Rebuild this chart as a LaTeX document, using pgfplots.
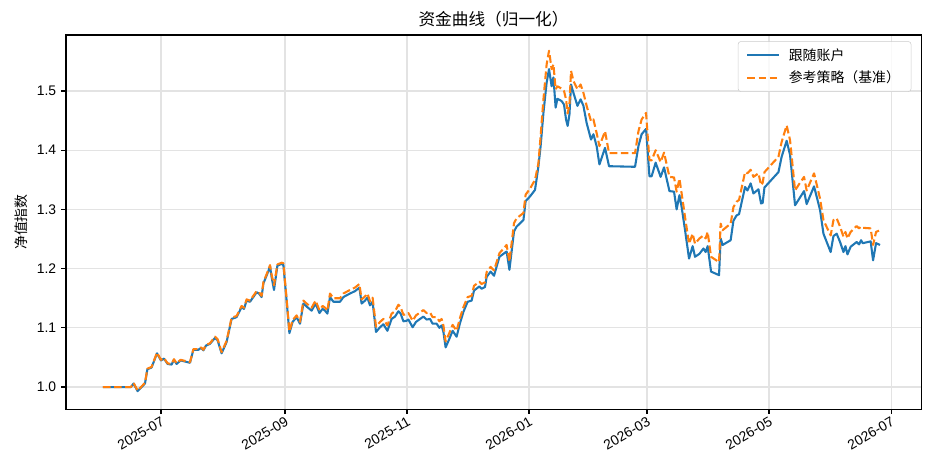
\documentclass[border=0pt]{standalone}
\usepackage{fontspec}
\setmainfont{Liberation Sans}
\newfontfamily\cjk{Noto Sans CJK SC}
\usepackage{pgfplots}
\usepackage{pgfplotstable}
\pgfplotsset{compat=1.18}
\definecolor{mblue}{HTML}{1F77B4}
\definecolor{morange}{HTML}{FF7F0E}
\definecolor{gridc}{HTML}{E3E3E3}

% d = days since 2025-07-01, b = follow account, o = reference strategy
\pgfplotstableread{
d b o
-29 1.000 1.000
-15 1.000 1.000
-13.7 1.006 1.007
-11.7 0.993 0.994
-8 1.006 1.007
-6.8 1.030 1.031
-4.7 1.033 1.034
-2 1.057 1.058
0 1.045 1.046
1.5 1.048 1.049
3.3 1.039 1.040
5.3 1.038 1.039
6.5 1.046 1.047
7.8 1.039 1.040
9.8 1.045 1.046
14.5 1.041 1.042
16.2 1.063 1.064
18.7 1.063 1.064
20 1.066 1.067
21.2 1.062 1.063
22.5 1.070 1.071
24.5 1.073 1.074
27 1.083 1.085
28.3 1.079 1.081
30.3 1.057 1.059
32.8 1.076 1.078
35.3 1.115 1.117
37.8 1.118 1.120
40.3 1.135 1.137
41.5 1.132 1.134
42.8 1.146 1.148
44.5 1.144 1.146
47.8 1.160 1.162
49 1.158 1.160
50.3 1.152 1.154
51.2 1.175 1.177
53.7 1.196 1.198
54.5 1.204 1.206
55.3 1.186 1.190
56.5 1.164 1.172
58.2 1.205 1.207
60.3 1.208 1.210
61.2 1.206 1.209
62.8 1.146 1.149
64.2 1.091 1.094
65.8 1.110 1.113
67.8 1.118 1.121
69.5 1.107 1.110
71.2 1.141 1.146
72.8 1.136 1.141
75.3 1.129 1.134
77.3 1.141 1.146
79.2 1.125 1.130
80.8 1.132 1.137
82 1.129 1.134
83.2 1.124 1.129
84.5 1.152 1.158
86.2 1.144 1.150
89.5 1.144 1.150
91.2 1.152 1.158
94.5 1.158 1.164
97 1.162 1.168
99.2 1.168 1.174
100.3 1.141 1.148
102 1.146 1.153
103.2 1.151 1.158
104.5 1.138 1.145
105.8 1.144 1.151
107.5 1.093 1.102
109.5 1.101 1.110
111.2 1.106 1.115
113.2 1.095 1.104
115.3 1.115 1.124
117 1.119 1.128
118.7 1.128 1.139
119.8 1.124 1.135
121.2 1.111 1.122
122.8 1.112 1.123
123.7 1.114 1.125
125.8 1.101 1.112
127.5 1.110 1.121
129.5 1.115 1.126
131.2 1.119 1.130
132.8 1.114 1.125
134.5 1.115 1.126
135.8 1.107 1.118
137.8 1.107 1.118
139.2 1.100 1.111
140.3 1.104 1.115
141.2 1.093 1.104
142.3 1.067 1.077
144 1.080 1.090
145.8 1.095 1.105
147.8 1.085 1.095
149.5 1.108 1.117
151.2 1.127 1.135
153.3 1.144 1.152
155.3 1.146 1.154
156.5 1.163 1.171
159.2 1.170 1.178
160.3 1.166 1.174
162 1.169 1.177
162.8 1.186 1.194
164.8 1.195 1.203
166.5 1.188 1.197
169.2 1.220 1.226
172.8 1.229 1.240
174.2 1.198 1.212
176.5 1.263 1.277
177.8 1.271 1.285
181.2 1.282 1.294
182.3 1.314 1.325
184.5 1.322 1.335
187 1.333 1.350
188.7 1.373 1.378
189.8 1.407 1.424
191.2 1.463 1.486
192.8 1.514 1.545
194 1.537 1.568
195.3 1.508 1.537
196.2 1.523 1.545
197.3 1.472 1.503
198.2 1.487 1.508
200.3 1.483 1.504
201.5 1.477 1.500
202.5 1.452 1.486
203.3 1.441 1.462
204.2 1.460 1.477
205 1.511 1.534
206.2 1.497 1.517
208.2 1.475 1.503
209.8 1.486 1.511
211.2 1.475 1.497
212.8 1.446 1.475
215 1.418 1.449
216.2 1.427 1.452
217.8 1.407 1.429
219.2 1.376 1.407
222 1.404 1.432
224 1.373 1.395
237 1.372 1.395
238.7 1.407 1.432
240.3 1.427 1.452
242.5 1.436 1.463
244.2 1.356 1.383
245.3 1.356 1.383
247.3 1.379 1.400
249.8 1.355 1.380
251.5 1.371 1.396
254.2 1.331 1.355
256.5 1.330 1.354
257.8 1.300 1.330
259.2 1.324 1.352
260.3 1.304 1.327
262 1.265 1.287
264 1.217 1.242
265.8 1.238 1.259
267 1.220 1.242
269.2 1.225 1.251
271.2 1.234 1.256
272.3 1.228 1.251
273.3 1.238 1.262
275 1.195 1.220
279 1.189 1.211
279.8 1.251 1.276
280.8 1.240 1.265
284.8 1.248 1.276
286.2 1.281 1.304
287.8 1.290 1.313
289 1.292 1.316
292 1.338 1.363
293.2 1.332 1.361
294.8 1.344 1.367
296.2 1.327 1.355
298.7 1.334 1.361
300 1.310 1.341
300.8 1.311 1.345
301.7 1.337 1.363
308.7 1.363 1.389
310.3 1.389 1.414
312.8 1.416 1.442
314.5 1.392 1.417
317 1.307 1.332
318.7 1.316 1.341
321.5 1.331 1.355
322.8 1.309 1.332
326.5 1.339 1.361
329.5 1.299 1.318
331.2 1.259 1.282
334.8 1.228 1.256
336.2 1.255 1.282
337.8 1.259 1.285
339.5 1.245 1.271
341.2 1.228 1.254
342.2 1.238 1.262
343.2 1.224 1.251
344.8 1.237 1.262
347.8 1.245 1.272
349 1.241 1.268
350 1.248 1.271
350.8 1.243 1.269
354.8 1.246 1.268
356 1.214 1.240
357.5 1.243 1.262
359.5 1.240 1.265
}\curve

\begin{document}
\begin{tikzpicture}
\path[use as bounding box] (-47.5pt,-46.1pt) rectangle (620.6pt,294.5pt);
\begin{axis}[
  scale only axis, width=615.6pt, height=269.3pt,
  xmin=-47.5, xmax=380, ymin=0.9628, ymax=1.5946,
  xtick={0,62,123,184,243,304,365},
  xticklabels={2025-07,2025-09,2025-11,2026-01,2026-03,2026-05,2026-07},
  ytick={1.0,1.1,1.2,1.3,1.4,1.5},
  yticklabels={1.0,1.1,1.2,1.3,1.4,1.5},
  /pgf/number format/assume math mode=true,
  tick align=outside, tick pos=left, major tick length=3.5pt,
  every tick/.style={black, line width=0.8pt},
  axis line style={line width=0.8pt},
  grid=major, major grid style={gridc, line width=0.8pt},
  xticklabel style={rotate=30, anchor=north east, font=\fontsize{10}{12}\selectfont, inner sep=1pt},
  yticklabel style={font=\fontsize{10}{12}\selectfont},
  title={\cjk 资金曲线（归一化）},
  title style={font=\fontsize{12}{14}\selectfont, yshift=-3.5pt},
  ylabel={\cjk 净值指数},
  ylabel style={font=\fontsize{10}{12}\selectfont},
  legend cell align=left,
  legend image code/.code={\draw[#1] (0cm,0cm) -- (0.8cm,0cm); \path (0.95cm,0cm);},
  legend style={at={(1,1)}, anchor=north east, xshift=-7pt, yshift=-4.5pt,
    draw=black!20, rounded corners=2pt, fill=white, fill opacity=0.8, text opacity=1,
    font=\fontsize{10}{12}\selectfont, row sep=2pt, inner xsep=6pt, inner ysep=3pt},
]
\addplot[mblue, line width=1.5pt, line join=round] table[x=d,y=b]{\curve};
\addlegendentry{\cjk 跟随账户}
\addplot[morange, line width=1.5pt, line join=round, dash pattern=on 5.55pt off 2.4pt] table[x=d,y=o]{\curve};
\addlegendentry{\cjk 参考策略（基准）}
\end{axis}
\end{tikzpicture}
\end{document}
